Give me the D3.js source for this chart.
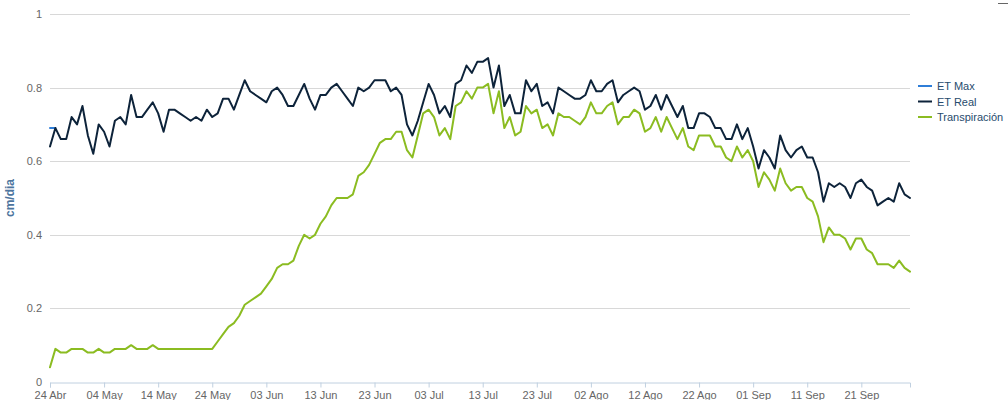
<!DOCTYPE html>
<html>
<head>
<meta charset="utf-8">
<script src="https://cdn.jsdelivr.net/npm/d3@7"></script>
<style>
  body { margin: 0; background: #fff; }
  svg { display: block; font-family: "Liberation Sans", Arial, sans-serif; }
</style>
</head>
<body>
<div id="chart"></div>
<script>
// daily series, starting on 24 Abr
var startDate = new Date(2014, 3, 24);
var monthNames = ["Ene", "Feb", "Mar", "Abr", "May", "Jun", "Jul", "Ago", "Sep", "Oct", "Nov", "Dic"];
var seriesNames = ["ET Max", "ET Real", "Transpiración"];
var yTicks = [0, 0.2, 0.4, 0.6, 0.8, 1];

var etMax = [0.69, 0.69];

var etReal = [
  0.64, 0.69, 0.66, 0.66, 0.72, 0.70, 0.75, 0.67, 0.62, 0.70,
  0.68, 0.64, 0.71, 0.72, 0.70, 0.78, 0.72, 0.72, 0.74, 0.76,
  0.73, 0.68, 0.74, 0.74, 0.73, 0.72, 0.71, 0.72, 0.71, 0.74,
  0.72, 0.73, 0.77, 0.77, 0.74, 0.78, 0.82, 0.79, 0.78, 0.77,
  0.76, 0.79, 0.80, 0.78, 0.75, 0.75, 0.78, 0.81, 0.77, 0.74,
  0.78, 0.78, 0.80, 0.81, 0.79, 0.77, 0.75, 0.80, 0.79, 0.80,
  0.82, 0.82, 0.82, 0.79, 0.80, 0.78, 0.70, 0.67, 0.71, 0.76,
  0.81, 0.78, 0.73, 0.75, 0.72, 0.81, 0.82, 0.86, 0.84, 0.87,
  0.87, 0.88, 0.80, 0.86, 0.75, 0.78, 0.73, 0.73, 0.82, 0.79,
  0.81, 0.75, 0.76, 0.73, 0.80, 0.79, 0.78, 0.77, 0.77, 0.78,
  0.82, 0.79, 0.79, 0.81, 0.82, 0.76, 0.78, 0.79, 0.80, 0.79,
  0.74, 0.75, 0.78, 0.74, 0.78, 0.75, 0.72, 0.75, 0.69, 0.69,
  0.73, 0.73, 0.72, 0.69, 0.69, 0.66, 0.66, 0.70, 0.66, 0.69,
  0.64, 0.58, 0.63, 0.61, 0.58, 0.67, 0.63, 0.61, 0.63, 0.64,
  0.61, 0.61, 0.57, 0.49, 0.54, 0.53, 0.54, 0.53, 0.50, 0.54,
  0.55, 0.53, 0.52, 0.48, 0.49, 0.50, 0.49, 0.54, 0.51, 0.50
];

var transpiracion = [
  0.04, 0.09, 0.08, 0.08, 0.09, 0.09, 0.09, 0.08, 0.08, 0.09,
  0.08, 0.08, 0.09, 0.09, 0.09, 0.10, 0.09, 0.09, 0.09, 0.10,
  0.09, 0.09, 0.09, 0.09, 0.09, 0.09, 0.09, 0.09, 0.09, 0.09,
  0.09, 0.11, 0.13, 0.15, 0.16, 0.18, 0.21, 0.22, 0.23, 0.24,
  0.26, 0.28, 0.31, 0.32, 0.32, 0.33, 0.37, 0.40, 0.39, 0.40,
  0.43, 0.45, 0.48, 0.50, 0.50, 0.50, 0.51, 0.56, 0.57, 0.59,
  0.62, 0.65, 0.66, 0.66, 0.68, 0.68, 0.63, 0.61, 0.67, 0.73,
  0.74, 0.72, 0.67, 0.69, 0.66, 0.75, 0.76, 0.79, 0.77, 0.80,
  0.80, 0.81, 0.73, 0.79, 0.69, 0.72, 0.67, 0.68, 0.75, 0.73,
  0.74, 0.69, 0.70, 0.67, 0.73, 0.72, 0.72, 0.71, 0.70, 0.72,
  0.76, 0.73, 0.73, 0.75, 0.76, 0.70, 0.72, 0.72, 0.74, 0.73,
  0.68, 0.69, 0.72, 0.68, 0.72, 0.69, 0.66, 0.69, 0.64, 0.63,
  0.67, 0.67, 0.67, 0.64, 0.64, 0.61, 0.60, 0.64, 0.61, 0.63,
  0.60, 0.53, 0.57, 0.55, 0.52, 0.58, 0.54, 0.52, 0.53, 0.53,
  0.50, 0.49, 0.45, 0.38, 0.42, 0.40, 0.40, 0.39, 0.36, 0.39,
  0.39, 0.36, 0.35, 0.32, 0.32, 0.32, 0.31, 0.33, 0.31, 0.30
];

var colors = ["#2f7ed8", "#0d233a", "#8bbc21"];

// set the dimensions and margins of the graph
var margin = {top: 14, right: 98, bottom: 18, left: 50},
    width = 1008 - margin.left - margin.right,
    height = 400 - margin.top - margin.bottom;

var dates = etReal.map(function(d, i) { return d3.timeDay.offset(startDate, i); });

// set the ranges
var x = d3.scaleTime()
    .domain([dates[0], dates[dates.length - 1]])
    .range([0, width]);
var y = d3.scaleLinear()
    .domain([0, 1])
    .range([height, 0]);

var svg = d3.select("#chart").append("svg")
    .attr("width", 1008)
    .attr("height", 400);

var g = svg.append("g")
    .attr("transform", "translate(" + margin.left + "," + margin.top + ")");

// horizontal grid lines
g.append("g")
  .selectAll("line")
  .data(yTicks.slice(1))
  .enter().append("line")
    .attr("x1", 0)
    .attr("x2", width)
    .attr("y1", function(d) { return Math.round(y(d)) + 0.5; })
    .attr("y2", function(d) { return Math.round(y(d)) + 0.5; })
    .style("stroke", "#d8d8d8")
    .style("stroke-width", 1);

// y axis labels
g.append("g")
  .selectAll("text")
  .data(yTicks)
  .enter().append("text")
    .attr("x", -8)
    .attr("y", function(d) { return y(d) + 4; })
    .attr("text-anchor", "end")
    .style("font-size", "11px")
    .style("fill", "#666")
    .text(function(d) { return d === 0 || d === 1 ? d : d3.format(".1f")(d); });

// x axis
var tickDates = dates.filter(function(d, i) { return i % 10 === 0; });
var xAxis = g.append("g")
    .attr("transform", "translate(0," + (Math.round(height) + 0.5) + ")")
    .call(d3.axisBottom(x)
      .tickValues(tickDates)
      .tickSize(5)
      .tickFormat(function(d) { return d3.timeFormat("%d")(d) + " " + monthNames[d.getMonth()]; }));
xAxis.select(".domain").style("stroke", "#c0d0e0");
xAxis.selectAll(".tick line").style("stroke", "#c0d0e0");
xAxis.selectAll(".tick text")
    .attr("y", 9)
    .style("font-family", "Liberation Sans, Arial, sans-serif")
    .style("font-size", "11px")
    .style("fill", "#666");

// y axis title
g.append("text")
    .attr("transform", "rotate(-90)")
    .attr("x", -height / 2)
    .attr("y", -36)
    .attr("text-anchor", "middle")
    .style("font-size", "12px")
    .style("font-weight", "bold")
    .style("fill", "#4d759e")
    .text("cm/dia");

// lines
var line = d3.line()
    .x(function(d, i) { return x(dates[i]); })
    .y(function(d) { return y(d); });

[etMax, etReal, transpiracion].forEach(function(s, k) {
  g.append("path")
      .datum(s)
      .attr("d", line)
      .style("fill", "none")
      .style("stroke", colors[k])
      .style("stroke-width", 2)
      .style("stroke-linejoin", "round")
      .style("stroke-linecap", "round");
});

// legend
var legend = svg.append("g")
    .attr("transform", "translate(918,86)");
var item = legend.selectAll("g")
    .data(seriesNames)
  .enter().append("g")
    .attr("transform", function(d, i) { return "translate(0," + (i * 15.5) + ")"; });
item.append("line")
    .attr("x1", 0).attr("x2", 14)
    .attr("y1", 0).attr("y2", 0)
    .style("stroke", function(d, i) { return colors[i]; })
    .style("stroke-width", 2);
item.append("text")
    .attr("x", 19)
    .attr("y", 4)
    .style("font-size", "11px")
    .style("fill", "#274b6d")
    .text(function(d) { return d; });

// export button edge, top right
svg.append("line")
    .attr("x1", 998).attr("x2", 1008)
    .attr("y1", 3.5).attr("y2", 3.5)
    .style("stroke", "#666")
    .style("stroke-width", 1);
</script>
</body>
</html>
